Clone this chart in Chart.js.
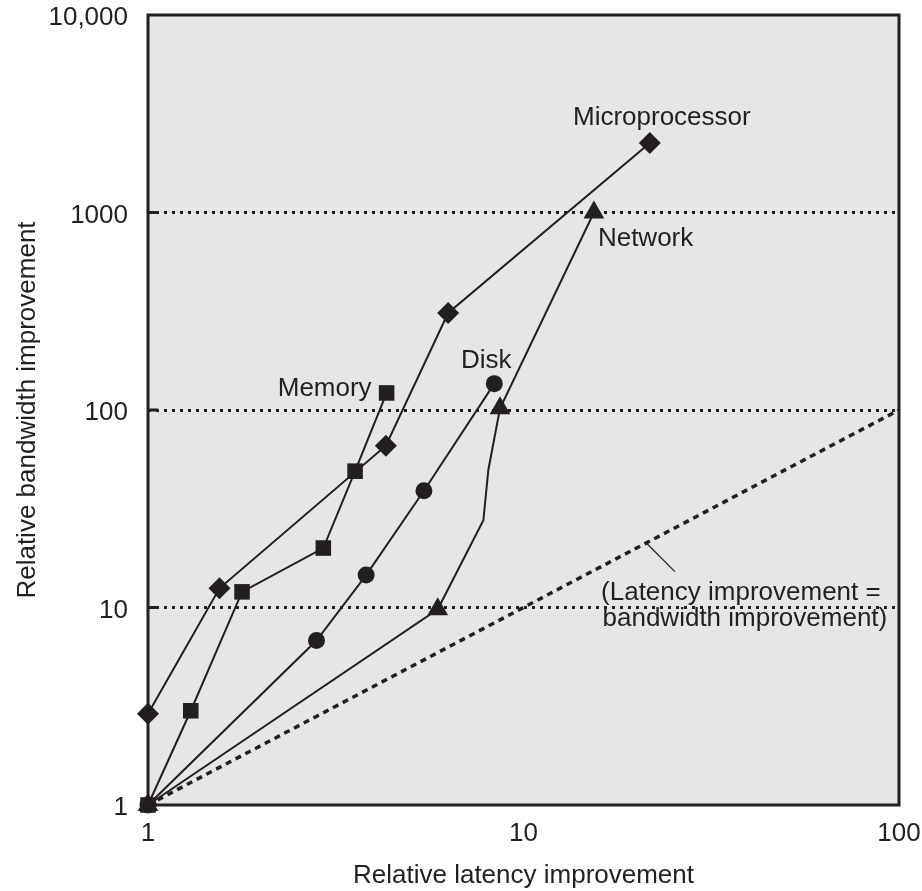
<!DOCTYPE html>
<html>
<head>
<meta charset="utf-8">
<title>Relative bandwidth vs latency improvement</title>
<script src="https://cdn.jsdelivr.net/npm/chart.js@4.4.0/dist/chart.umd.min.js"></script>
<style>
  html, body { margin: 0; padding: 0; background: #fff; }
  .chart-container { width: 922px; height: 891px; }
</style>
</head>
<body>
<div class="chart-container"><canvas id="chart"></canvas></div>
<script>
// axis ticks
const xTicks = [1, 10, 100];
const xTickLabels = ['1', '10', '100'];
const yTicks = [1, 10, 100, 1000, 10000];
const yTickLabels = ['1', '10', '100', '1000', '10,000'];

// series (latency improvement, bandwidth improvement)
const microLatency = [1, 1.55, 4.3, 6.3, 21.7];
const microBandwidth = [2.9, 12.5, 66, 310, 2250];
const memoryLatency = [1, 1.3, 1.78, 2.93, 3.56, 4.32];
const memoryBandwidth = [1, 3, 12, 20, 49, 122];
const diskLatency = [1, 2.81, 3.81, 5.43, 8.36];
const diskBandwidth = [1, 6.8, 14.6, 39, 136];
const networkLatency = [1, 5.91, 7.82, 8.06, 8.66, 15.4];
const networkBandwidth = [1, 9.8, 27.7, 49.7, 102, 1000];
const networkMarked = [true, true, false, false, true, true];

// reference line: latency improvement = bandwidth improvement
const equalLatency = [1, 100];
const equalBandwidth = [1, 100];
const leaderLatency = [21.3, 25.3];
const leaderBandwidth = [21.1, 15.2];

const ink = '#231f20';
const font = '"Liberation Sans", Arial, Helvetica, sans-serif';

const toPoints = (xs, ys) => xs.map((x, i) => ({ x: x, y: ys[i] }));

// text notes, placed next to a point of a dataset
const notes = [
    { text: 'Microprocessor', ds: 0, pt: 4, dx: 12, dy: -18, align: 'center' },
    { text: 'Memory', ds: 1, pt: 5, dx: -15, dy: 3, align: 'right' },
    { text: 'Disk', ds: 2, pt: 4, dx: -8, dy: -16, align: 'center' },
    { text: 'Network', ds: 3, pt: 5, dx: 4, dy: 33, align: 'left' },
    { text: '(Latency improvement =', ds: 5, pt: 1, dx: 66, dy: 28, align: 'center' },
    { text: 'bandwidth improvement)', ds: 5, pt: 1, dx: 70, dy: 54, align: 'center' }
];

const framePlugin = {
    id: 'frame',
    beforeDraw(chart) {
        const { ctx, chartArea: a } = chart;
        ctx.save();
        ctx.fillStyle = '#e6e6e6';
        ctx.fillRect(a.left, a.top, a.width, a.height);
        ctx.restore();
    },
    afterDraw(chart) {
        const { ctx, chartArea: a, scales } = chart;
        ctx.save();
        ctx.strokeStyle = ink;
        ctx.lineWidth = 3;
        ctx.strokeRect(a.left, a.top, a.width, a.height);
        // short solid ticks inside the left edge
        yTicks.slice(1, -1).forEach(v => {
            const y = scales.y.getPixelForValue(v);
            ctx.beginPath();
            ctx.moveTo(a.left, y);
            ctx.lineTo(a.left + 10, y);
            ctx.stroke();
        });
        ctx.fillStyle = ink;
        ctx.font = '26px ' + font;
        ctx.textBaseline = 'alphabetic';
        notes.forEach(n => {
            const p = chart.data.datasets[n.ds].data[n.pt];
            const x = scales.x.getPixelForValue(p.x) + n.dx;
            const y = scales.y.getPixelForValue(p.y) + n.dy;
            ctx.textAlign = n.align;
            ctx.fillText(n.text, x, y);
        });
        ctx.restore();
    }
};

const series = (label, xs, ys, style, radius) => ({
    label: label,
    data: toPoints(xs, ys),
    showLine: true,
    borderColor: ink,
    backgroundColor: ink,
    borderWidth: 2,
    pointStyle: style,
    pointRadius: radius,
    pointBorderWidth: 0,
    pointBackgroundColor: ink,
    clip: false
});

Chart.defaults.font.family = font;
Chart.defaults.font.size = 26;
Chart.defaults.color = ink;

new Chart(document.getElementById('chart'), {
    type: 'scatter',
    data: {
        datasets: [
            series('Microprocessor', microLatency, microBandwidth, 'rectRot', 11),
            series('Memory', memoryLatency, memoryBandwidth, 'rect', 11),
            series('Disk', diskLatency, diskBandwidth, 'circle', 8.5),
            series('Network', networkLatency, networkBandwidth, 'triangle',
                networkMarked.map(m => m ? 12 : 0)),
            {
                label: 'Equal',
                data: toPoints(equalLatency, equalBandwidth),
                showLine: true,
                borderColor: ink,
                borderWidth: 3.5,
                borderDash: [6, 5],
                pointRadius: 0
            },
            {
                label: 'Leader',
                data: toPoints(leaderLatency, leaderBandwidth),
                showLine: true,
                borderColor: ink,
                borderWidth: 1.2,
                pointRadius: 0
            }
        ]
    },
    options: {
        responsive: true,
        maintainAspectRatio: false,
        animation: false,
        events: [],
        layout: { padding: { top: 15, right: 23, left: 0, bottom: 0 } },
        plugins: {
            legend: { display: false },
            tooltip: { enabled: false }
        },
        scales: {
            x: {
                type: 'logarithmic',
                min: 1,
                max: 100,
                afterBuildTicks: scale => { scale.ticks = xTicks.map(v => ({ value: v })); },
                afterFit: scale => {
                    scale.height = 86;
                    scale.paddingLeft = 0;
                    scale.paddingRight = 0;
                },
                ticks: {
                    autoSkip: false,
                    maxRotation: 0,
                    padding: 13,
                    callback: value => xTickLabels[xTicks.indexOf(value)]
                },
                grid: { display: false, drawTicks: false },
                border: { display: false },
                title: {
                    display: true,
                    text: 'Relative latency improvement',
                    padding: { top: 0, bottom: 0 }
                }
            },
            y: {
                type: 'logarithmic',
                min: 1,
                max: 10000,
                afterBuildTicks: scale => { scale.ticks = yTicks.map(v => ({ value: v })); },
                afterFit: scale => {
                    scale.width = 148;
                    scale.paddingTop = 0;
                    scale.paddingBottom = 0;
                },
                ticks: {
                    autoSkip: false,
                    padding: 20,
                    labelOffset: 3,
                    callback: value => yTickLabels[yTicks.indexOf(value)]
                },
                grid: {
                    drawTicks: false,
                    lineWidth: 3,
                    color: c => (c.tick && (c.tick.value === 1 || c.tick.value === 10000)) ? 'rgba(0,0,0,0)' : ink
                },
                border: { display: false, dash: [3, 5] },
                title: {
                    display: true,
                    text: 'Relative bandwidth improvement',
                    padding: { top: 12, bottom: 0 }
                }
            }
        }
    },
    plugins: [framePlugin]
});
</script>
</body>
</html>
